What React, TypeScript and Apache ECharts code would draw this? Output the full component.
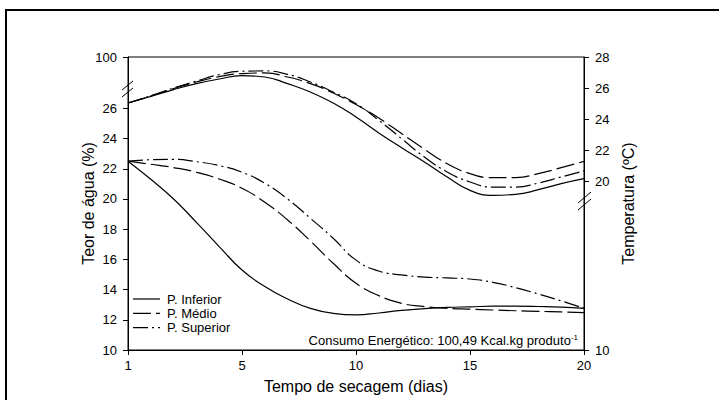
import React, { useEffect, useRef } from "react";
import * as echarts from "echarts";

// Drying time axis positions (axis value 0 is labelled "1")
const days = [0, 1, 2, 3, 4, 5, 6, 7, 8, 9, 10, 11, 12, 13, 14, 15, 16, 17, 18, 19, 20];
const xTickValues = [0, 5, 10, 15, 20];
const xTickLabels = ["1", "5", "10", "15", "20"];

const seriesNames = ["P. Inferior", "P. Médio", "P. Superior"];

// Water content (%) - left axis
const waterInferior = [22.5, 21.3, 20.0, 18.45, 16.85, 15.3, 14.2, 13.38, 12.76, 12.43, 12.33, 12.45, 12.62, 12.74, 12.82, 12.86, 12.9, 12.9, 12.88, 12.84, 12.76];
const waterMedio = [22.5, 22.3, 22.08, 21.77, 21.32, 20.71, 19.78, 18.61, 17.22, 15.74, 14.42, 13.6, 13.09, 12.87, 12.76, 12.7, 12.65, 12.6, 12.56, 12.52, 12.47];
const waterSuperior = [22.5, 22.6, 22.62, 22.47, 22.21, 21.77, 21.04, 20.0, 18.72, 17.4, 15.95, 15.23, 14.97, 14.83, 14.77, 14.7, 14.48, 14.13, 13.71, 13.25, 12.76];

// Temperature (ºC) - right axis
const tempInferior = [25.03, 25.46, 25.9, 26.28, 26.58, 26.8, 26.71, 26.28, 25.74, 25.03, 24.13, 23.1, 22.15, 21.23, 20.26, 19.4, 19.08, 19.14, 19.44, 19.83, 20.15];
const tempMedio = [25.03, 25.48, 25.96, 26.39, 26.73, 26.93, 26.97, 26.71, 26.28, 25.68, 24.93, 24.06, 23.06, 22.05, 21.12, 20.48, 20.22, 20.22, 20.48, 20.86, 21.27];
const tempSuperior = [25.03, 25.5, 26.0, 26.45, 26.86, 27.08, 27.1, 26.88, 26.39, 25.74, 24.99, 23.92, 22.73, 21.55, 20.58, 19.94, 19.61, 19.61, 19.87, 20.26, 20.65];

// Tick labels (axes are broken: left top labelled 100, right bottom labelled 10)
const leftTickValues = [10, 12, 14, 16, 18, 20, 22, 24, 26];
const leftBreakValue = 29.4;
const leftBreakLabel = "100";
const rightTickValues = [20, 22, 24, 26, 28];
const rightBreakValue = 9.1;
const rightBreakLabel = "10";

const FONT = "Liberation Sans, Arial, sans-serif";

const pairs = (ys: number[]) => days.map((d, i) => [d, ys[i]]);

const dashMedio = [18, 5];
const dashSuperior = [15, 4, 2, 4];
const lineTypes: any[] = ["solid", dashMedio, dashSuperior];

export default function App() {
  const ref = useRef<HTMLDivElement>(null);

  useEffect(() => {
    if (!ref.current) return;
    const chart = echarts.init(ref.current, null, { renderer: "svg" });

    const lineSeries = (name: string, data: number[], axis: number, type: any) => ({
      name,
      type: "line",
      yAxisIndex: axis,
      data: pairs(data),
      smooth: true,
      symbol: "none",
      showSymbol: false,
      lineStyle: { color: "#000", width: 1.2, type },
      itemStyle: { color: "#000" },
      emphasis: { disabled: true },
    });

    const leftLabels = [...leftTickValues, leftBreakValue];
    const rightLabels = [rightBreakValue, ...rightTickValues];

    // legend drawn as graphic (line sample + text)
    const legendGraphics: any[] = [];
    seriesNames.forEach((name, i) => {
      const y = 299 + i * 14.3;
      legendGraphics.push({
        type: "line",
        silent: true,
        z: 100,
        shape: { x1: 133, y1: y, x2: 160, y2: y },
        style: {
          stroke: "#000",
          lineWidth: 1.2,
          lineDash: lineTypes[i] === "solid" ? null : lineTypes[i],
        },
      });
      legendGraphics.push({
        type: "text",
        silent: true,
        z: 100,
        x: 167,
        y,
        style: { text: name, fontSize: 13, fontFamily: FONT, fill: "#000", verticalAlign: "middle", align: "left" },
      });
    });

    const option: any = {
      animation: false,
      backgroundColor: "#fff",
      grid: {
        left: 128,
        right: 135,
        top: 57,
        bottom: 50,
        show: true,
        borderColor: "#000",
        borderWidth: 1,
        backgroundColor: "transparent",
      },
      xAxis: {
        type: "value",
        min: 0,
        max: 20,
        axisLine: { show: true, lineStyle: { color: "#000", width: 1 } },
        axisTick: { show: true, customValues: xTickValues, length: 5, lineStyle: { color: "#000" } },
        axisLabel: {
          customValues: xTickValues,
          formatter: (v: number) => {
            const i = xTickValues.indexOf(v);
            return i >= 0 ? xTickLabels[i] : "";
          },
          color: "#000",
          fontSize: 13,
          fontFamily: FONT,
          margin: 9,
        },
        splitLine: { show: false },
        name: "Tempo de secagem (dias)",
        nameLocation: "middle",
        nameGap: 28,
        nameTextStyle: { fontSize: 16, color: "#000", fontFamily: FONT },
      },
      yAxis: [
        {
          type: "value",
          position: "left",
          min: 10,
          max: leftBreakValue,
          axisLine: { show: true, lineStyle: { color: "#000", width: 1 } },
          axisTick: { show: true, customValues: leftLabels, length: 5, lineStyle: { color: "#000" } },
          axisLabel: {
            customValues: leftLabels,
            formatter: (v: number) => (v === leftBreakValue ? leftBreakLabel : String(v)),
            color: "#000",
            fontSize: 13,
            fontFamily: FONT,
            margin: 11,
          },
          splitLine: { show: false },
          name: "Teor de água (%)",
          nameLocation: "middle",
          nameGap: 32,
          nameMoveOverlap: false,
          nameTextStyle: { fontSize: 16, color: "#000", fontFamily: FONT },
        },
        {
          type: "value",
          position: "right",
          min: rightBreakValue,
          max: 28,
          axisLine: { show: true, lineStyle: { color: "#000", width: 1 } },
          axisTick: { show: true, customValues: rightLabels, length: 5, lineStyle: { color: "#000" } },
          axisLabel: {
            customValues: rightLabels,
            formatter: (v: number) => (v === rightBreakValue ? rightBreakLabel : String(v)),
            color: "#000",
            fontSize: 13,
            fontFamily: FONT,
            margin: 11,
          },
          splitLine: { show: false },
          name: "Temperatura (ºC)",
          nameLocation: "middle",
          nameGap: 36,
          nameMoveOverlap: false,
          nameTextStyle: { fontSize: 16, color: "#000", fontFamily: FONT },
        },
      ],
      series: [
        lineSeries(seriesNames[0], waterInferior, 0, lineTypes[0]),
        lineSeries(seriesNames[1], waterMedio, 0, lineTypes[1]),
        lineSeries(seriesNames[2], waterSuperior, 0, lineTypes[2]),
        lineSeries(seriesNames[0], tempInferior, 1, lineTypes[0]),
        lineSeries(seriesNames[1], tempMedio, 1, lineTypes[1]),
        lineSeries(seriesNames[2], tempSuperior, 1, lineTypes[2]),
      ],
      graphic: [
        {
          type: "rect",
          silent: true,
          z: 100,
          shape: { x: 6, y: 10, width: 740, height: 420 },
          style: { fill: "none", stroke: "#000", lineWidth: 2 },
        },
        // left axis break marks
        { type: "line", silent: true, z: 100, shape: { x1: 122, y1: 90, x2: 133, y2: 81 }, style: { stroke: "#000", lineWidth: 1 } },
        { type: "line", silent: true, z: 100, shape: { x1: 122, y1: 97, x2: 133, y2: 88 }, style: { stroke: "#000", lineWidth: 1 } },
        // right axis break marks
        { type: "line", silent: true, z: 100, shape: { x1: 578, y1: 203, x2: 591, y2: 192 }, style: { stroke: "#000", lineWidth: 1 } },
        { type: "line", silent: true, z: 100, shape: { x1: 578, y1: 210, x2: 591, y2: 199 }, style: { stroke: "#000", lineWidth: 1 } },
        ...legendGraphics,
        {
          type: "text",
          silent: true,
          z: 100,
          x: 578,
          y: 340,
          style: {
            text: "{a|Consumo Energético: 100,49 Kcal.kg produto}{b|-1}",
            align: "right",
            verticalAlign: "middle",
            rich: {
              a: { fontSize: 13, fill: "#000", fontFamily: FONT },
              b: { fontSize: 8, fill: "#000", fontFamily: FONT, verticalAlign: "top" },
            },
          },
        },
      ],
    };

    chart.setOption(option);
    return () => chart.dispose();
  }, []);

  return (
    <div
      ref={ref}
      style={{ position: "absolute", left: 0, top: 0, width: 719, height: 400, background: "#fff" }}
    />
  );
}
